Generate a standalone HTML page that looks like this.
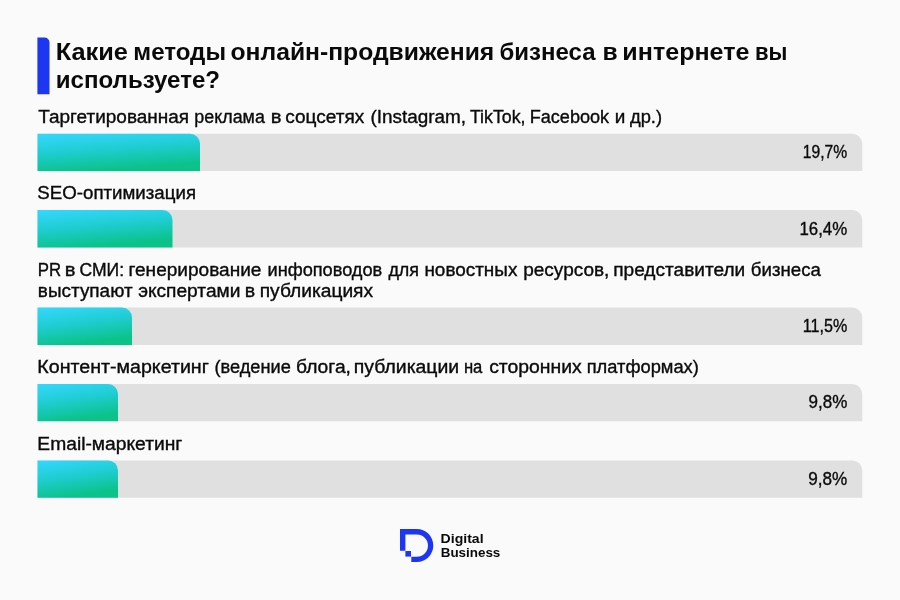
<!DOCTYPE html>
<html lang="ru"><head><meta charset="utf-8">
<title>Какие методы онлайн-продвижения бизнеса в интернете вы используете?</title>
<style>
*{margin:0;padding:0}
html,body{width:900px;height:600px;overflow:hidden;background:#fafafa}
svg{display:block}
text{font-family:"Liberation Sans","Noto Sans CJK SC",sans-serif;fill:#0a0a0a}
.b{font-weight:bold}
.r{stroke:#0a0a0a;stroke-width:0.35;paint-order:stroke}
</style></head><body>
<svg width="900" height="600" viewBox="0 0 900 600">
<defs>
<linearGradient id="g" x1="0" y1="0" x2="0.3" y2="1">
<stop offset="0" stop-color="#35d7ff"/><stop offset="0.5" stop-color="#1fcdd0"/><stop offset="1" stop-color="#0bc289"/>
</linearGradient>
</defs>
<rect width="900" height="600" fill="#fafafa"/>
<path fill="#1d36f2" d="M37.4,37.5 H44.5 A5,5 0 0 1 49.5,42.5 V94.25 H37.4 Z"/>
<path fill="#e0e0e0" d="M37.50,133.70 H852.30 A10,10 0 0 1 862.30,143.70 V171.00 H37.50 Z"/>
<path fill="url(#g)" d="M37.50,133.70 H190.00 A10,10 0 0 1 200.00,143.70 V171.00 H37.50 Z"/>
<path fill="#e0e0e0" d="M37.50,210.10 H852.30 A10,10 0 0 1 862.30,220.10 V247.40 H37.50 Z"/>
<path fill="url(#g)" d="M37.50,210.10 H162.50 A10,10 0 0 1 172.50,220.10 V247.40 H37.50 Z"/>
<path fill="#e0e0e0" d="M37.50,307.60 H852.30 A10,10 0 0 1 862.30,317.60 V344.90 H37.50 Z"/>
<path fill="url(#g)" d="M37.50,307.60 H122.00 A10,10 0 0 1 132.00,317.60 V344.90 H37.50 Z"/>
<path fill="#e0e0e0" d="M37.50,384.00 H852.30 A10,10 0 0 1 862.30,394.00 V421.30 H37.50 Z"/>
<path fill="url(#g)" d="M37.50,384.00 H108.00 A10,10 0 0 1 118.00,394.00 V421.30 H37.50 Z"/>
<path fill="#e0e0e0" d="M37.50,460.40 H852.30 A10,10 0 0 1 862.30,470.40 V497.70 H37.50 Z"/>
<path fill="url(#g)" d="M37.50,460.40 H108.00 A10,10 0 0 1 118.00,470.40 V497.70 H37.50 Z"/>
<text class="b" font-size="24" y="60"><tspan x="55.75" textLength="72.21" lengthAdjust="spacingAndGlyphs">Какие</tspan> <tspan x="133.32" textLength="92.68" lengthAdjust="spacingAndGlyphs">методы</tspan> <tspan x="230.56" textLength="263.73" lengthAdjust="spacingAndGlyphs">онлайн-продвижения</tspan> <tspan x="499.55" textLength="95.96" lengthAdjust="spacingAndGlyphs">бизнеса</tspan> <tspan x="602.52" textLength="15.15" lengthAdjust="spacingAndGlyphs">в</tspan> <tspan x="622.39" textLength="127.01" lengthAdjust="spacingAndGlyphs">интернете</tspan> <tspan x="755.06" textLength="32.43" lengthAdjust="spacingAndGlyphs">вы</tspan></text>
<text class="b" font-size="24" y="88.3"><tspan x="55.82" textLength="164.23" lengthAdjust="spacingAndGlyphs">используете?</tspan></text>
<text class="r" font-size="17.6" y="122.7"><tspan x="38.26" textLength="150.86" lengthAdjust="spacingAndGlyphs">Таргетированная</tspan> <tspan x="194.38" textLength="70.47" lengthAdjust="spacingAndGlyphs">реклама</tspan> <tspan x="270.87" textLength="10.76" lengthAdjust="spacingAndGlyphs">в</tspan> <tspan x="285.28" textLength="79.08" lengthAdjust="spacingAndGlyphs">соцсетях</tspan> <tspan x="370.40" textLength="95.67" lengthAdjust="spacingAndGlyphs">(Instagram,</tspan> <tspan x="469.92" textLength="55.61" lengthAdjust="spacingAndGlyphs">TikTok,</tspan> <tspan x="529.65" textLength="79.52" lengthAdjust="spacingAndGlyphs">Facebook</tspan> <tspan x="614.82" textLength="10.57" lengthAdjust="spacingAndGlyphs">и</tspan> <tspan x="630.00" textLength="32.05" lengthAdjust="spacingAndGlyphs">др.)</tspan></text>
<text class="r" font-size="17.6" y="199.4"><tspan x="37.35" textLength="158.68" lengthAdjust="spacingAndGlyphs">SEO-оптимизация</tspan></text>
<text class="r" font-size="17.6" y="276"><tspan x="37.78" textLength="23.37" lengthAdjust="spacingAndGlyphs">PR</tspan> <tspan x="64.76" textLength="10.75" lengthAdjust="spacingAndGlyphs">в</tspan> <tspan x="79.54" textLength="44.57" lengthAdjust="spacingAndGlyphs">СМИ:</tspan> <tspan x="128.50" textLength="132.93" lengthAdjust="spacingAndGlyphs">генерирование</tspan> <tspan x="267.49" textLength="114.73" lengthAdjust="spacingAndGlyphs">инфоповодов</tspan> <tspan x="388.41" textLength="30.62" lengthAdjust="spacingAndGlyphs">для</tspan> <tspan x="424.43" textLength="92.96" lengthAdjust="spacingAndGlyphs">новостных</tspan> <tspan x="523.23" textLength="86.19" lengthAdjust="spacingAndGlyphs">ресурсов,</tspan> <tspan x="613.22" textLength="132.02" lengthAdjust="spacingAndGlyphs">представители</tspan> <tspan x="750.84" textLength="70.10" lengthAdjust="spacingAndGlyphs">бизнеса</tspan></text>
<text class="r" font-size="17.6" y="296.7"><tspan x="37.88" textLength="94.72" lengthAdjust="spacingAndGlyphs">выступают</tspan> <tspan x="138.16" textLength="102.26" lengthAdjust="spacingAndGlyphs">экспертами</tspan> <tspan x="244.78" textLength="10.41" lengthAdjust="spacingAndGlyphs">в</tspan> <tspan x="259.71" textLength="113.38" lengthAdjust="spacingAndGlyphs">публикациях</tspan></text>
<text class="r" font-size="17.6" y="373.2"><tspan x="37.39" textLength="171.47" lengthAdjust="spacingAndGlyphs">Контент-маркетинг</tspan> <tspan x="214.43" textLength="76.40" lengthAdjust="spacingAndGlyphs">(ведение</tspan> <tspan x="296.03" textLength="54.93" lengthAdjust="spacingAndGlyphs">блога,</tspan> <tspan x="353.87" textLength="105.28" lengthAdjust="spacingAndGlyphs">публикации</tspan> <tspan x="463.91" textLength="18.46" lengthAdjust="spacingAndGlyphs">на</tspan> <tspan x="489.18" textLength="92.51" lengthAdjust="spacingAndGlyphs">сторонних</tspan> <tspan x="586.69" textLength="112.12" lengthAdjust="spacingAndGlyphs">платформах)</tspan></text>
<text class="r" font-size="17.6" y="449.8"><tspan x="37.33" textLength="145.07" lengthAdjust="spacingAndGlyphs">Email-маркетинг</tspan></text>
<text class="b" font-size="13.7" y="542.5"><tspan x="440.58" textLength="42.97" lengthAdjust="spacingAndGlyphs">Digital</tspan></text>
<text class="b" font-size="13.7" y="556.6"><tspan x="440.72" textLength="59.59" lengthAdjust="spacingAndGlyphs">Business</tspan></text>
<text class="r" transform="translate(847.13,158.1) scale(0.8652,1)" font-size="18.1" text-anchor="end">19,7%</text>
<text class="r" transform="translate(847.21,234.7) scale(0.9319,1)" font-size="18.1" text-anchor="end">16,4%</text>
<text class="r" transform="translate(847.27,332) scale(0.8901,1)" font-size="18.1" text-anchor="end">11,5%</text>
<text class="r" transform="translate(847.34,408.2) scale(0.9394,1)" font-size="18.1" text-anchor="end">9,8%</text>
<text class="r" transform="translate(847.24,484.6) scale(0.9482,1)" font-size="18.1" text-anchor="end">9,8%</text>
<path fill="#1d36f2" d="M400,529 H416.8 A16.5,16.5 0 0 1 416.8,562 H411.3 V556.8 H416.8 A11.2,11.2 0 0 0 416.8,534.4 H405.4 V550.8 H400 Z"/>
<rect fill="#1d36f2" x="405.4" y="551.0" width="5.6" height="5.6"/>
</svg>
</body></html>
